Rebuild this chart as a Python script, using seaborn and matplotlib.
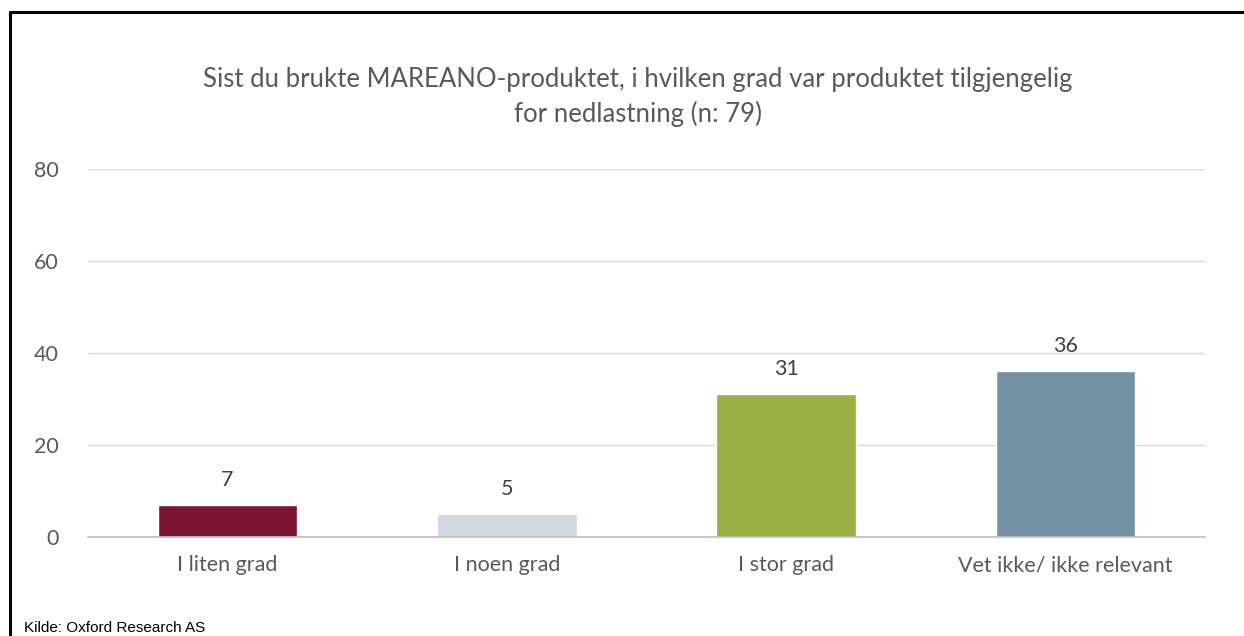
import matplotlib
matplotlib.use("Agg")
import matplotlib.pyplot as plt
import seaborn as sns
import pandas as pd
from matplotlib.lines import Line2D

# ── Data ────────────────────────────────────────────────────────────────
categories = ["I liten grad", "I noen grad", "I stor grad", "Vet ikke/ ikke relevant"]
values = [7, 5, 31, 36]
colors = ["#7B1530", "#D0D8E0", "#9BAF42", "#7491A4"]
yticks = [0, 20, 40, 60, 80]
title = ("Sist du brukte MAREANO-produktet, i hvilken grad var produktet tilgjengelig\n"
         "for nedlastning (n: 79)")
source = "Kilde: Oxford Research AS"

df = pd.DataFrame({"kategori": categories, "antall": values})

sns.set_theme(style="white")
plt.rcParams["font.family"] = ["Lato", "DejaVu Sans"]

fig = plt.figure(figsize=(12.44, 6.36), dpi=100)
ax = fig.add_axes([88 / 1244, 99 / 636, 1117 / 1244, 368 / 636])

sns.barplot(data=df, x="kategori", y="antall", hue="kategori", palette=colors,
            legend=False, width=0.5, saturation=1, ax=ax)

ax.set_ylim(0, 80)
ax.set_xlim(-0.5, 3.5)
ax.set_yticks(yticks)
ax.yaxis.grid(True, color="#D9D9D9", lw=1)
ax.set_axisbelow(True)
for s in ["top", "right", "left"]:
    ax.spines[s].set_visible(False)
ax.spines["bottom"].set_color("#BFBFBF")
ax.tick_params(axis="both", length=0, labelsize=15.5, colors="#595959")
ax.tick_params(axis="x", pad=13)
ax.tick_params(axis="y", pad=21)
ax.set_xlabel("")
ax.set_ylabel("")

for i, v in enumerate(values):
    ax.annotate(str(v), (i, v), xytext=(0, 11), textcoords="offset points",
                ha="center", va="bottom", fontsize=15.5, color="#404040")

fig.text(638 / 1244, 1 - 97 / 636, title, ha="center", va="center", fontsize=18.5,
         color="#595959", linespacing=1.4)

fig.text(24 / 1244, 1 / 636, source, ha="left", va="bottom", fontsize=11,
         color="black", family=["Liberation Sans", "DejaVu Sans"])

# frame lines (top and left)
fig.add_artist(Line2D([10 / 1244, 1], [1 - 12 / 636, 1 - 12 / 636],
                      transform=fig.transFigure, color="black", lw=2.2))
fig.add_artist(Line2D([10 / 1244, 10 / 1244], [0, 1 - 12 / 636],
                      transform=fig.transFigure, color="black", lw=2.2))

fig.savefig("out.png", dpi=100, facecolor="white")
